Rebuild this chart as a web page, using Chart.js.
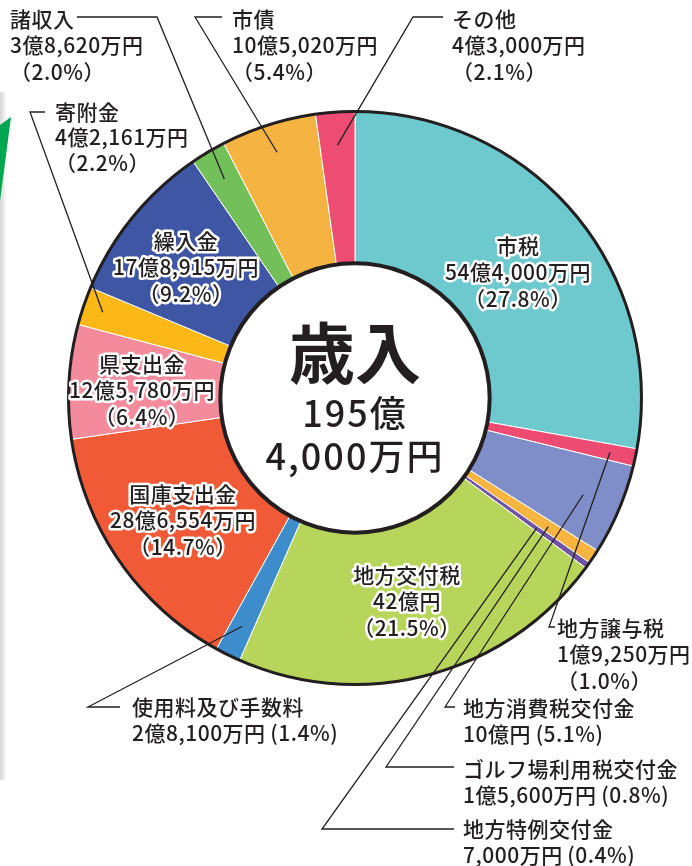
<!DOCTYPE html>
<html lang="ja">
<head>
<meta charset="utf-8">
<title>歳入</title>
<script src="https://cdn.jsdelivr.net/npm/chart.js@4.4.1/dist/chart.umd.min.js"></script>
<style>
  html, body { margin: 0; background: #fff; }
  #wrap { position: relative; width: 692px; height: 866px; overflow: hidden; }
  #shade { position: absolute; left: 0; top: 92px; width: 7px; height: 688px;
           background: linear-gradient(to right, #d6d6d6, rgba(255,255,255,0)); }
  #tab { position: absolute; left: 0; top: 117px; width: 11px; height: 84px; background: #00a650;
         clip-path: polygon(0 8px, 11px 0, 0 100%); }
  canvas { position: absolute; left: 0; top: 0; }
</style>
</head>
<body>
<div id="wrap">
  <div id="shade"></div>
  <div id="tab"></div>
  <canvas id="pie" width="692" height="866"></canvas>
</div>
<script>
// 歳入 内訳（単位：万円）
const categories = ['市税', '地方譲与税', '地方消費税交付金', 'ゴルフ場利用税交付金', '地方特例交付金',
  '地方交付税', '使用料及び手数料', '国庫支出金', '県支出金', '寄附金', '繰入金', '諸収入', '市債', 'その他']
const amounts = [544000, 19250, 100000, 15600, 7000, 420000, 28100, 286554, 125780, 42161, 178915, 38620, 105020, 43000]
const amountLabels = ['54億4,000万円', '1億9,250万円', '10億円', '1億5,600万円', '7,000万円', '42億円',
  '2億8,100万円', '28億6,554万円', '12億5,780万円', '4億2,161万円', '17億8,915万円', '3億8,620万円',
  '10億5,020万円', '4億3,000万円']
const percentLabels = ['27.8%', '1.0%', '5.1%', '0.8%', '0.4%', '21.5%', '1.4%', '14.7%', '6.4%', '2.2%',
  '9.2%', '2.0%', '5.4%', '2.1%']
const totalLines = ['歳入', '195億', '4,000万円']

const colors = ['#6dc9ce', '#ee4b72', '#7f8ec8', '#f7b540', '#7054a3', '#b6d55a', '#3d8ccb', '#f05a37',
  '#f48b9c', '#fbb817', '#3f56a5', '#73c05b', '#f5b342', '#ee4d73']
const ink = '#231f20'
const font = '"Noto Sans CJK JP", "Noto Sans", sans-serif'

// where each label goes: inside the ring, or outside with a leader line
// lead = elbow points from the arc anchor outwards, r = anchor radius as a share of the ring
const placement = [
  { inside: true, x: 518, y: 246 },
  { x: 557, y: 628, lead: [[549, 627], [555, 627]], r: 0.91 },
  { x: 463, y: 708, two: true, lead: [[445, 707], [455, 707]], r: 0.865 },
  { x: 463, y: 769, two: true, lead: [[386, 767], [454, 767]], r: 0.81 },
  { x: 463, y: 829, two: true, lead: [[322, 829], [454, 829]], r: 0.78 },
  { inside: true, x: 407, y: 575 },
  { x: 132, y: 707, two: true, lead: [[88, 707], [120, 707]], r: 0.89 },
  { inside: true, x: 183, y: 494 },
  { inside: true, x: 142, y: 364 },
  { x: 55, y: 112, gap: 25.5, lead: [[30, 112], [45, 112]], r: 0.93 },
  { inside: true, x: 186, y: 241 },
  { x: 10, y: 19, lead: [[157, 17], [77, 17]], r: 0.89 },
  { x: 232, y: 19, lead: [[195, 17], [222, 17]], r: 0.9 },
  { x: 452, y: 19, lead: [[413, 17], [443, 17]], r: 0.885 },
]

function textLines(i) {
  const p = placement[i]
  if (p.two) return [categories[i], amountLabels[i] + '\u2009(' + percentLabels[i] + ')']
  return [categories[i], amountLabels[i], '（' + percentLabels[i] + '）']
}

const labelPlugin = {
  id: 'labels',
  afterDatasetsDraw(chart) {
    const ctx = chart.ctx
    const arcs = chart.getDatasetMeta(0).data
    const { x: cx, y: cy, innerRadius, outerRadius } = arcs[0].getProps(['x', 'y', 'innerRadius', 'outerRadius'], true)
    ctx.save()
    // black rims
    ctx.strokeStyle = ink
    ctx.lineWidth = 3
    ctx.beginPath()
    ctx.arc(cx, cy, outerRadius, 0, Math.PI * 2)
    ctx.stroke()
    ctx.lineWidth = 4
    ctx.beginPath()
    ctx.arc(cx, cy, innerRadius, 0, Math.PI * 2)
    ctx.stroke()

    // leader lines
    ctx.lineWidth = 1.3
    ctx.lineJoin = 'miter'
    arcs.forEach((arc, i) => {
      const p = placement[i]
      if (!p.lead) return
      const a = (arc.startAngle + arc.endAngle) / 2
      const r = outerRadius * p.r
      ctx.beginPath()
      ctx.moveTo(cx + Math.cos(a) * r, cy + Math.sin(a) * r)
      p.lead.forEach(pt => ctx.lineTo(pt[0], pt[1]))
      ctx.stroke()
    })

    // labels
    ctx.textBaseline = 'middle'
    ctx.font = '500 21px ' + font
    ctx.letterSpacing = '0.5px'
    arcs.forEach((arc, i) => {
      const p = placement[i]
      const gap = p.gap || 26.5
      ctx.textAlign = p.inside ? 'center' : 'left'
      textLines(i).forEach((t, k) => {
        const ty = p.y + k * gap
        if (p.inside) {
          ctx.lineJoin = 'round'
          ctx.lineWidth = 5
          ctx.strokeStyle = '#fff'
          ctx.strokeText(t, p.x, ty)
        }
        ctx.fillStyle = ink
        ctx.fillText(t, p.x, ty)
      })
    })

    // total in the middle
    ctx.textAlign = 'center'
    ctx.fillStyle = ink
    ctx.letterSpacing = '0px'
    ctx.font = 'bold 66px ' + font
    ctx.fillText(totalLines[0], cx, cy - 45)
    ctx.letterSpacing = '2px'
    ctx.font = '500 36px ' + font
    ctx.fillText(totalLines[1], cx, cy + 15)
    ctx.fillText(totalLines[2], cx, cy + 58)
    ctx.restore()
  },
}

new Chart(document.getElementById('pie'), {
  type: 'doughnut',
  data: {
    labels: categories,
    datasets: [{
      data: amounts,
      backgroundColor: colors,
      borderColor: '#ffffff',
      borderWidth: 1,
      hoverOffset: 0,
    }],
  },
  options: {
    responsive: false,
    animation: false,
    cutout: '47%',
    layout: { padding: { left: 68, right: 50, top: 111, bottom: 181 } },
    plugins: {
      legend: { display: false },
      tooltip: { enabled: false },
    },
  },
  plugins: [labelPlugin],
})
</script>
</body>
</html>
